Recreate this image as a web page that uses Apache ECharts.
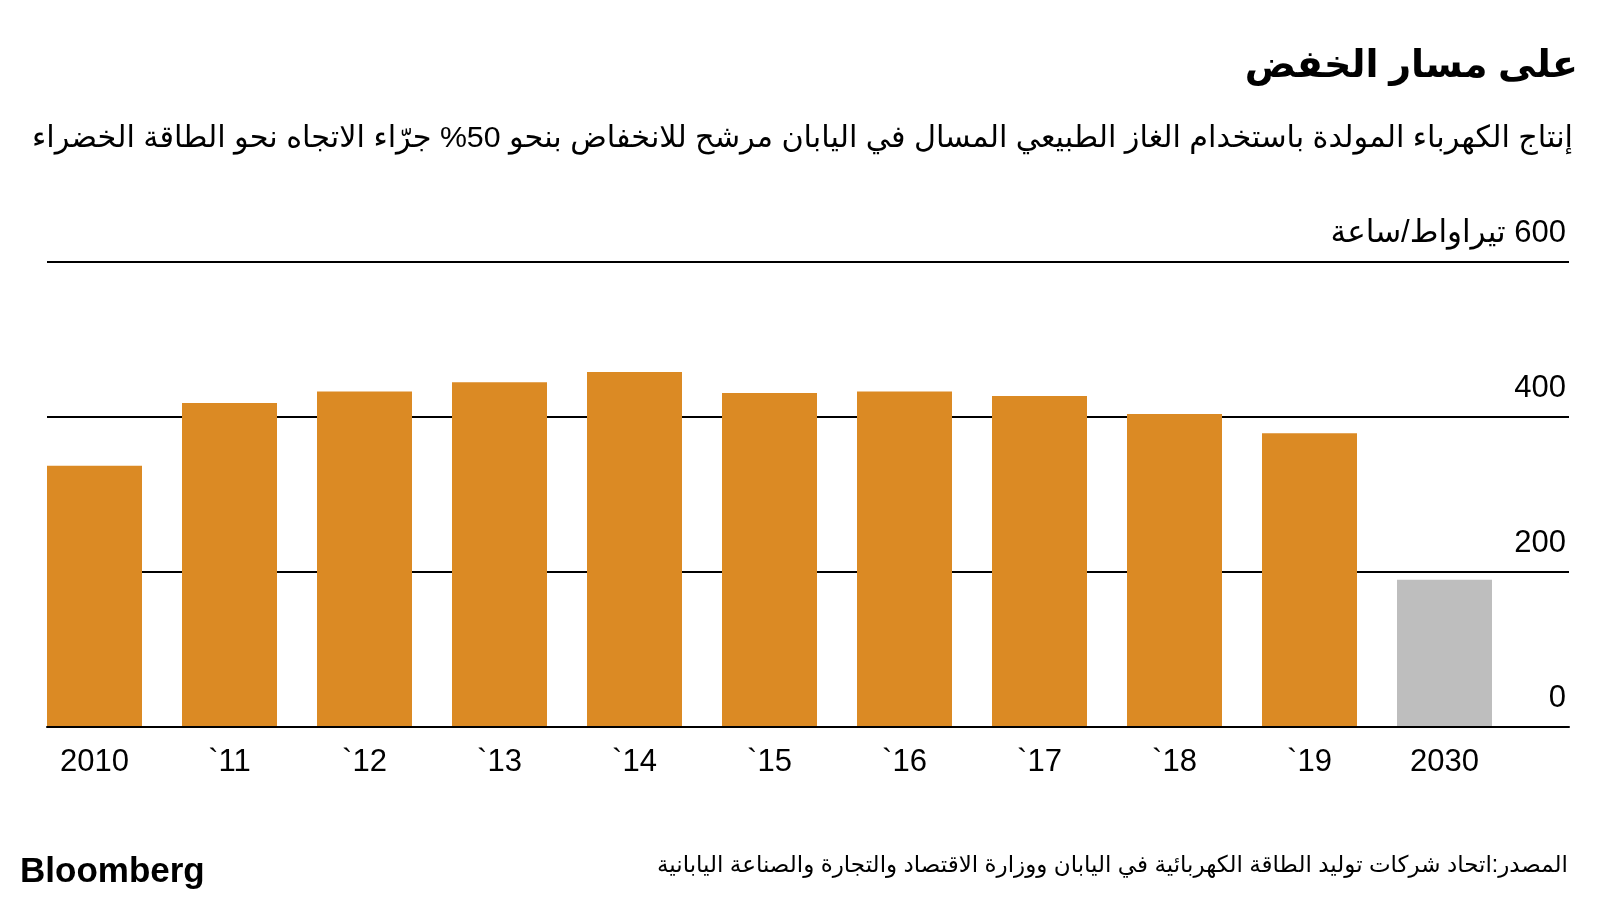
<!DOCTYPE html>
<html lang="ar">
<head>
<meta charset="utf-8">
<title>على مسار الخفض</title>
<script src="https://cdn.jsdelivr.net/npm/echarts@6/dist/echarts.min.js"></script>
<style>
  html, body {
    margin: 0;
    padding: 0;
    background: #ffffff;
  }
  #chart {
    width: 1600px;
    height: 900px;
  }
</style>
</head>
<body>
<div id="chart"></div>
<script>
// 数据
const years = ['2010', '`11', '`12', '`13', '`14', '`15', '`16', '`17', '`18', '`19', '2030']
const lngPower = [337, 418, 433, 445, 458, 431, 433, 427, 404, 379, 190]
const yTicks = [0, 200, 400, 600]
const unitLabel = 'تيراواط/ساعة'

const titleText = 'على مسار الخفض'
const subtitleText = 'إنتاج الكهرباء المولدة باستخدام الغاز الطبيعي المسال في اليابان مرشح للانخفاض بنحو 50% جرّاء الاتجاه نحو الطاقة الخضراء'
const sourceText = 'المصدر:اتحاد شركات توليد الطاقة الكهربائية في اليابان ووزارة الاقتصاد والتجارة والصناعة اليابانية'

const FONT = "'Liberation Sans', 'DejaVu Sans', sans-serif"
const ORANGE = '#db8a24'
const GREY = '#bebebe'

const chart = echarts.init(document.getElementById('chart'), null, { renderer: 'canvas' })

const option = {
  backgroundColor: '#ffffff',
  animation: false,
  textStyle: { fontFamily: FONT },
  title: [
    {
      text: titleText,
      right: 22,
      top: 48,
      padding: 0,
      textStyle: { fontSize: 38, fontWeight: 'bold', color: '#000', fontFamily: FONT }
    },
    {
      text: subtitleText,
      right: 27,
      top: 124,
      padding: 0,
      textStyle: { fontSize: 30.3, fontWeight: 'normal', color: '#000', fontFamily: FONT }
    },
    {
      text: sourceText,
      right: 32,
      top: 854,
      padding: 0,
      textStyle: { fontSize: 23, fontWeight: 'normal', color: '#000', fontFamily: FONT }
    },
    {
      text: 'Bloomberg',
      left: 20,
      top: 855,
      padding: 0,
      textStyle: { fontSize: 35, fontWeight: 'bold', color: '#000', fontFamily: FONT }
    }
  ],
  grid: [
    // 网格线 + 右侧刻度
    { left: 47, right: 31, top: 262, bottom: 173 },
    // 柱子
    { left: 27, width: 1485, top: 262, bottom: 173 }
  ],
  xAxis: [
    {
      gridIndex: 0,
      type: 'value',
      min: 0,
      max: 1,
      z: 10,
      axisLine: { show: true, onZero: false, lineStyle: { color: '#000', width: 2 } },
      axisTick: { show: false },
      axisLabel: { show: false },
      splitLine: { show: false }
    },
    {
      gridIndex: 1,
      type: 'category',
      data: years,
      axisLine: { show: false },
      axisTick: { show: false },
      axisLabel: {
        color: '#000',
        fontSize: 31,
        margin: 20,
        fontFamily: FONT
      }
    }
  ],
  yAxis: [
    {
      gridIndex: 0,
      type: 'value',
      position: 'right',
      min: yTicks[0],
      max: yTicks[yTicks.length - 1],
      interval: yTicks[1] - yTicks[0],
      axisLine: { show: false },
      axisTick: { show: false },
      splitLine: { show: true, lineStyle: { color: '#000', width: 2 } },
      axisLabel: {
        inside: true,
        margin: 3,
        color: '#000',
        fontSize: 31,
        fontFamily: FONT,
        verticalAlign: 'bottom',
        padding: [0, 0, 13, 0],
        formatter: (v) => v === yTicks[yTicks.length - 1] ? '\u200F' + v + ' ' + unitLabel : String(v)
      }
    },
    {
      gridIndex: 1,
      type: 'value',
      min: yTicks[0],
      max: yTicks[yTicks.length - 1],
      show: false
    }
  ],
  series: [
    {
      type: 'bar',
      xAxisIndex: 1,
      yAxisIndex: 1,
      data: lngPower,
      barWidth: 95,
      itemStyle: {
        color: (p) => p.dataIndex === years.length - 1 ? GREY : ORANGE
      }
    }
  ]
}

chart.setOption(option)
</script>
</body>
</html>
